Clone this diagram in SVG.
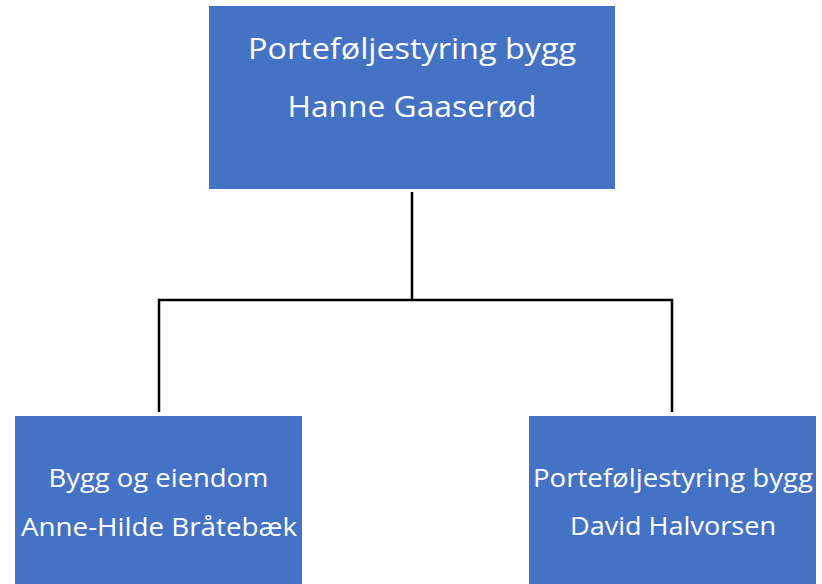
<svg xmlns="http://www.w3.org/2000/svg" width="822" height="584" viewBox="0 0 822 584">
<style>
.box{fill:#4472C4}
.t{font-family:"Open Sans","Liberation Sans",sans-serif;fill:#fff;text-anchor:middle}
.big{font-size:30px}
.sm{font-size:25.5px}
.c{fill:none;stroke:#000;stroke-width:2.5}
</style>
<rect width="822" height="584" fill="#fff"/>
<g id="connectors">
<path class="c" d="M412,192 V300"/>
<path class="c" d="M159,412 V300 H672 V412"/>
</g>
<g id="top">
<rect class="box" x="209" y="6" width="406" height="183"/>
<text class="t big" x="412" y="59" textLength="328" lengthAdjust="spacingAndGlyphs">Porteføljestyring bygg</text>
<text class="t big" x="412" y="117" textLength="249" lengthAdjust="spacingAndGlyphs">Hanne Gaaserød</text>
</g>
<g id="left">
<rect class="box" x="15" y="416" width="287" height="168"/>
<text class="t sm" x="158.5" y="487" textLength="220" lengthAdjust="spacingAndGlyphs">Bygg og eiendom</text>
<text class="t sm" x="159" y="536" textLength="276" lengthAdjust="spacingAndGlyphs">Anne-Hilde Bråtebæk</text>
</g>
<g id="right">
<rect class="box" x="529" y="416" width="287" height="168"/>
<text class="t sm" x="673" y="487" textLength="280" lengthAdjust="spacingAndGlyphs">Porteføljestyring bygg</text>
<text class="t sm" x="673" y="535" textLength="206" lengthAdjust="spacingAndGlyphs">David Halvorsen</text>
</g>
</svg>
